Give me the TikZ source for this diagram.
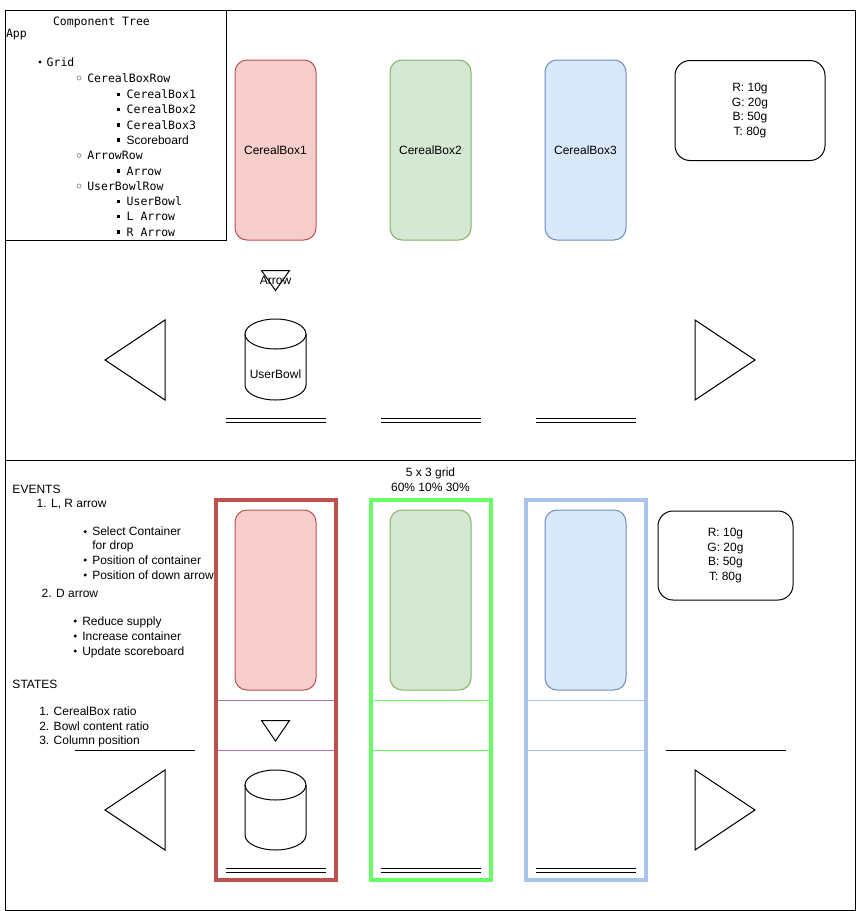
\documentclass[tikz,border=0pt]{standalone}
\usepackage{fontspec}
\setmainfont{Liberation Sans}
\newfontfamily\treefont{DejaVu Sans Mono}
\definecolor{rfill}{HTML}{F8CECC}
\definecolor{rdraw}{HTML}{B85450}
\definecolor{gfill}{HTML}{D5E8D4}
\definecolor{gdraw}{HTML}{82B366}
\definecolor{bfill}{HTML}{DAE8FC}
\definecolor{bdraw}{HTML}{6C8EBF}
\definecolor{rframe}{HTML}{C0504D}
\definecolor{gframe}{HTML}{66FF66}
\definecolor{bframe}{HTML}{A9C4EB}
\definecolor{rdiv}{HTML}{B5739D}
\begin{document}
\begin{tikzpicture}[x=1pt,y=-1pt,line width=1pt,line join=miter,
  every node/.style={inner sep=0pt,outer sep=0pt},
  lbl/.style={font=\fontsize{12}{14.4}\selectfont},
  txt/.style={lbl,anchor=base west},
  tr/.style={font=\treefont\fontsize{11.5}{13}\selectfont,anchor=base west},
  cbox/.style={draw,rounded corners=12pt,minimum width=81pt,minimum height=180pt,lbl},
  board/.style={draw,rounded corners=15pt,lbl,align=center},
  frame/.style={line width=4pt},
  dbl/.style={line width=1pt},
]
\useasboundingbox (0,0) rectangle (856,911);
% outer frames
\draw (5,10) rectangle (855,460);
\draw (5,460) rectangle (855,910);
\draw (5,10) rectangle (226,240);

% component tree
\node[tr] (tt) at (53,25.5) {Component Tree};
\node[tr] (tapp) at (6,37.5) {App};
\fill (40,62) circle (1.6);
\node[tr] (tgrid) at (46.7,66) {Grid};
\draw[gray,line width=0.6pt] (79,78) circle (2);
\node[tr] (tcbr) at (87.3,82) {CerealBoxRow};
\foreach \yy/\nm/\tx in {98.3/tcb1/CerealBox1,113.7/tcb2/CerealBox2,129/tcb3/CerealBox3}{
  \fill (116.8,\yy-5.6) rectangle (120,\yy-2.4);
  \node[tr] (\nm) at (126.7,\yy) {\tx};
}
\fill (116.8,144-5.6) rectangle (120,144-2.4);
\node[txt] (tsb) at (126.7,144) {Scoreboard};
\draw[gray,line width=0.6pt] (79,155.5) circle (2);
\node[tr] (tar) at (87.3,159.5) {ArrowRow};
\fill (116.8,175-5.6) rectangle (120,175-2.4);
\node[tr] (ta) at (126.7,175) {Arrow};
\draw[gray,line width=0.6pt] (79,186) circle (2);
\node[tr] (tubr) at (87.3,190) {UserBowlRow};
\foreach \yy/\nm/\tx in {205.3/tub/UserBowl,220.7/tl/L Arrow,236/trr/R Arrow}{
  \fill (116.8,\yy-5.6) rectangle (120,\yy-2.4);
  \node[tr] (\nm) at (126.7,\yy) {\tx};
}

% top row boxes
\node[cbox,fill=rfill,draw=rdraw] (cb1) at (275.5,150) {CerealBox1};
\node[cbox,fill=gfill,draw=gdraw] (cb2) at (430.5,150) {CerealBox2};
\node[cbox,fill=bfill,draw=bdraw] (cb3) at (585.5,150) {CerealBox3};
\node[board,minimum width=150pt,minimum height=100pt] (sb1) at (750,110.5) {R: 10g\\G: 20g\\B: 50g\\T: 80g};

% top arrow
\draw (261.5,270.5) -- (289.5,270.5) -- (275.5,290.5) -- cycle;
\node[lbl] (arrowlbl) at (275.5,280.3) {Arrow};

% top bowl
\draw (245,334) -- (245,385) .. controls (245,393.3) and (258.7,400) .. (275.5,400)
  .. controls (292.3,400) and (306,393.3) .. (306,385) -- (306,334);
\draw (275.5,334) ellipse [x radius=30.5pt,y radius=15pt];
\node[lbl] (ub) at (275.5,374.7) {UserBowl};

% top double lines
\foreach \xa in {225.5,380.5,535.5}{
  \draw[dbl] (\xa,418.5) -- (\xa+100,418.5);
  \draw[dbl] (\xa,422.5) -- (\xa+100,422.5);
}

% top side arrows
\draw (105,360) -- (165,320) -- (165,400) -- cycle;
\draw (695,320) -- (695,400) -- (755,360) -- cycle;

% bottom section
\node[lbl,anchor=base] (gridt) at (430.5,476.7) {5 x 3 grid};
\node[lbl,anchor=base] (pct) at (430.5,491) {60\% 10\% 30\%};

% events text
\node[txt] (ev) at (12.5,493) {EVENTS};
\node[txt] (ev1) at (36.7,507) {1. L, R arrow};
\foreach \yy in {535.7,564,579}{\fill (85.2,\yy-4) circle (1.7);}
\node[txt] (e11) at (92.3,535.7) {Select Container};
\node[txt] (e11b) at (92.3,549.5) {for drop};
\node[txt] (e12) at (92.3,564) {Position of container};
\node[txt] (e13) at (92.3,579) {Position of down arrow};
\node[txt] (ev2) at (41.7,597) {2. D arrow};
\foreach \yy in {625,640,655}{\fill (75.2,\yy-4) circle (1.7);}
\node[txt] (e21) at (82.3,625) {Reduce supply};
\node[txt] (e22) at (82.3,640) {Increase container};
\node[txt] (e23) at (82.3,655) {Update scoreboard};
\node[txt] (st) at (12.5,688.5) {STATES};
\node[txt] (s1) at (39.3,715) {1. CerealBox ratio};
\node[txt] (s2) at (39.3,730) {2. Bowl content ratio};
\node[txt] (s3) at (39.3,744.5) {3. Column position};

% dividers
\draw[rdiv] (215.5,700.5) -- (335.5,700.5);
\draw[rdiv] (215.5,750.5) -- (335.5,750.5);
\draw[gframe] (370.5,700.5) -- (490.5,700.5);
\draw[gframe] (370.5,750.5) -- (490.5,750.5);
\draw[bframe] (525.5,700.5) -- (645.5,700.5);
\draw[bframe] (525.5,750.5) -- (645.5,750.5);

% bottom cereal boxes
\node[cbox,fill=rfill,draw=rdraw] (cb1b) at (275.5,600) {};
\node[cbox,fill=gfill,draw=gdraw] (cb2b) at (430.5,600) {};
\node[cbox,fill=bfill,draw=bdraw] (cb3b) at (585.5,600) {};

% bottom arrow
\draw (261.5,720.5) -- (289.5,720.5) -- (275.5,741) -- cycle;

% bottom bowl
\draw (245,785) -- (245,835) .. controls (245,843.3) and (258.7,850) .. (275.5,850)
  .. controls (292.3,850) and (306,843.3) .. (306,835) -- (306,785);
\draw (275.5,785) ellipse [x radius=30.5pt,y radius=15pt];

% bottom double lines
\foreach \xa in {225.5,380.5,535.5}{
  \draw[dbl] (\xa,868.5) -- (\xa+100,868.5);
  \draw[dbl] (\xa,872.5) -- (\xa+100,872.5);
}

% column frames
\draw[frame,rframe] (215.5,500) rectangle (335.5,880);
\draw[frame,gframe] (370.5,500) rectangle (490.5,880);
\draw[frame,bframe] (525.5,500) rectangle (645.5,880);

% bottom scoreboard
\node[board,minimum width=135pt,minimum height=89pt] (sb2) at (725.5,555.5) {R: 10g\\G: 20g\\B: 50g\\T: 80g};

% side lines
\draw (75,750.5) -- (195,750.5);
\draw (665.5,750.5) -- (785.5,750.5);

% bottom side arrows
\draw (105,810) -- (165,770) -- (165,850) -- cycle;
\draw (695,770) -- (695,850) -- (755,810) -- cycle;
\end{tikzpicture}
\end{document}
